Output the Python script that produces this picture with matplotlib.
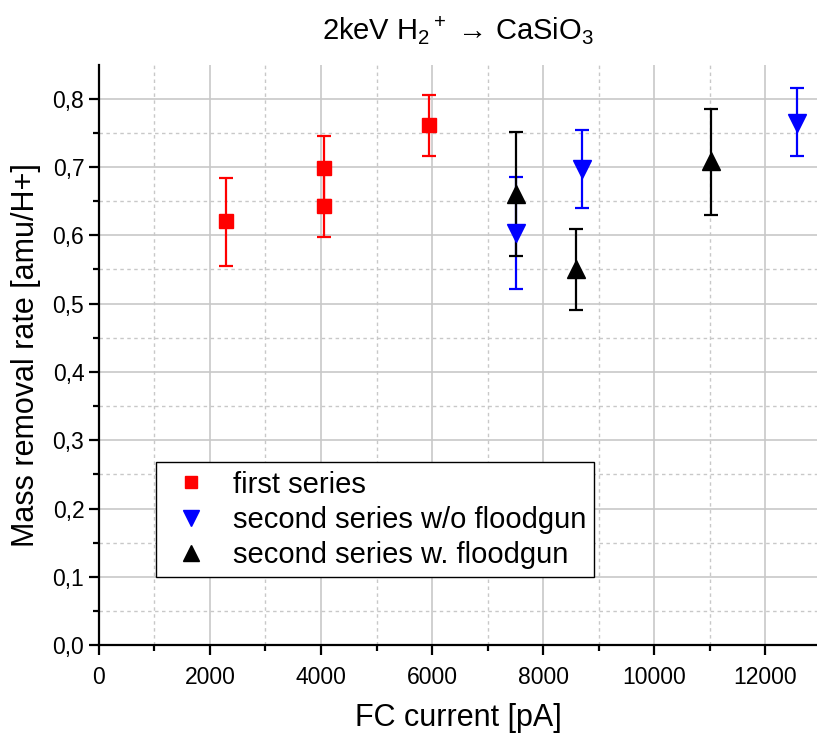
import matplotlib
matplotlib.use("Agg")
import matplotlib.pyplot as plt
from matplotlib.lines import Line2D
from matplotlib.ticker import MultipleLocator, FuncFormatter

plt.rcParams['font.family'] = ['Liberation Sans', 'DejaVu Sans']
plt.rcParams['mathtext.fontset'] = 'custom'
plt.rcParams['mathtext.rm'] = 'Liberation Sans'
plt.rcParams['mathtext.it'] = 'Liberation Sans:italic'

# first series
first_x = [2288, 4047, 4047, 5939]
first_y = [0.621, 0.698, 0.643, 0.761]
first_lo = [0.066, 0.047, 0.046, 0.045]
first_hi = [0.063, 0.047, 0.046, 0.044]

# second series without floodgun
nofg_x = [7514, 8696, 12569]
nofg_y = [0.604, 0.697, 0.765]
nofg_lo = [0.082, 0.057, 0.049]
nofg_hi = [0.081, 0.057, 0.050]

# second series with floodgun
fg_x = [7514, 8582, 11020]
fg_y = [0.660, 0.550, 0.709]
fg_lo = [0.091, 0.060, 0.080]
fg_hi = [0.091, 0.059, 0.076]

fig = plt.figure(figsize=(8.17, 7.4), dpi=100)
ax = fig.add_axes([0.121, 0.128, 0.879, 0.784])

series = [
    (first_x, first_y, first_lo, first_hi, 's', 'red', 9.5, 'first series'),
    (nofg_x, nofg_y, nofg_lo, nofg_hi, 'v', 'blue', 13, 'second series w/o floodgun'),
    (fg_x, fg_y, fg_lo, fg_hi, '^', 'black', 13, 'second series w. floodgun'),
]
handles = []
for x, y, lo, hi, m, c, ms, lab in series:
    ax.errorbar(x, y, yerr=[lo, hi], fmt=m, color=c, markersize=ms,
                elinewidth=1.6, capsize=5.2, capthick=1.6, zorder=3)
    handles.append(Line2D([], [], linestyle='none', marker=m, color=c,
                          markersize=ms * 0.85, label=lab))

ax.set_xlim(0, 12930)
ax.set_ylim(0, 0.849)
ax.xaxis.set_major_locator(MultipleLocator(2000))
ax.xaxis.set_minor_locator(MultipleLocator(1000))
ax.yaxis.set_major_locator(MultipleLocator(0.1))
ax.yaxis.set_minor_locator(MultipleLocator(0.05))
ax.yaxis.set_major_formatter(FuncFormatter(lambda v, p: f"{v:.1f}".replace('.', ',')))

ax.grid(which='major', color='#c8c8c8', linewidth=1.2, linestyle='-')
ax.grid(which='minor', color='#c8c8c8', linewidth=1.0, linestyle=(0, (2.5, 2.5)))
ax.set_axisbelow(True)

for s in ['top', 'right']:
    ax.spines[s].set_visible(False)
for s in ['left', 'bottom']:
    ax.spines[s].set_linewidth(1.6)
ax.tick_params(which='major', direction='out', length=7, width=1.6, labelsize=16.5)
ax.tick_params(axis='x', which='major', pad=8)
ax.tick_params(which='minor', direction='out', length=4, width=1.6)

ax.set_xlabel('FC current [pA]', fontsize=22, labelpad=10)
ax.set_ylabel('Mass removal rate [amu/H+]', fontsize=22, labelpad=8)
ax.set_title(r'2keV H$_2$$^+$ → CaSiO$_3$', fontsize=21, pad=18)

leg = ax.legend(handles=handles, loc='lower left', bbox_to_anchor=(0.079, 0.117),
                borderaxespad=0, fontsize=21, frameon=True, fancybox=False,
                edgecolor='black', framealpha=1, handletextpad=0.48,
                labelspacing=0.25, handlelength=1.88, borderpad=0.28)
leg.get_frame().set_linewidth(1.0)

fig.savefig('out.png', dpi=100)
